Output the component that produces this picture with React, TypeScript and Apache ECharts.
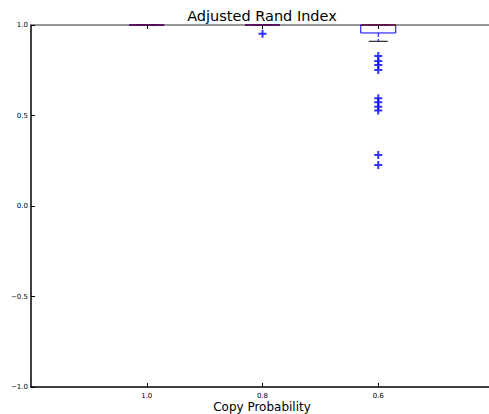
import React, { useEffect, useRef } from "react";
import * as echarts from "echarts";

const categories = ["", "1.0", "0.8", "0.6", ""];
// [categoryIndex, lowerWhisker, q1, median, q3, upperWhisker]
const boxes = [
  [1, 1.0, 1.0, 1.0, 1.0, 1.0],
  [2, 1.0, 1.0, 1.0, 1.0, 1.0],
  [3, 0.91, 0.956, 1.0, 1.0, 1.0],
];
const outliers = [
  [2, 0.952],
  [3, 0.829],
  [3, 0.801],
  [3, 0.779],
  [3, 0.751],
  [3, 0.595],
  [3, 0.573],
  [3, 0.549],
  [3, 0.527],
  [3, 0.282],
  [3, 0.227],
];
const yTicks = { min: -1, max: 1, interval: 0.5 };

const FONT = "DejaVu Sans";
const PLUS = "path://M3,0h2v3h3v2h-3v3h-2v-3h-3v-2h3z";

export default function App() {
  const ref = useRef<HTMLDivElement>(null);
  useEffect(() => {
    document.body.style.margin = "0";
    const chart = echarts.init(ref.current!, null, { renderer: "svg" });
    const boxW = 35;
    const capW = 19;
    const tickInterval = (i: number) => i > 0 && i < 4;
    chart.setOption({
      animation: false,
      backgroundColor: "#ffffff",
      grid: { left: 31, top: 25, width: 463, height: 362, outerBoundsMode: "none", containLabel: false },
      xAxis: [
        {
          type: "category",
          data: categories,
          boundaryGap: false,
          axisLine: { onZero: false, lineStyle: { color: "#000", width: 1.5 } },
          axisTick: {
            inside: true,
            length: 4,
            lineStyle: { color: "#000" },
            interval: tickInterval,
          },
          axisLabel: {
            interval: tickInterval,
            fontFamily: FONT,
            fontSize: 7,
            color: "#000",
            margin: 5,
          },
          splitLine: { show: false },
        },
        {
          type: "category",
          data: categories,
          position: "top",
          boundaryGap: false,
          axisLine: { onZero: false, lineStyle: { color: "#777", width: 1.5 } },
          axisTick: {
            inside: true,
            length: 4,
            lineStyle: { color: "#000" },
            interval: tickInterval,
          },
          axisLabel: { show: false },
          splitLine: { show: false },
        },
      ],
      yAxis: {
        type: "value",
        min: yTicks.min,
        max: yTicks.max,
        interval: yTicks.interval,
        axisLine: { show: true, onZero: false, lineStyle: { color: "#000", width: 1.5 } },
        axisTick: { show: true, inside: true, length: 4, lineStyle: { color: "#000" } },
        axisLabel: {
          fontFamily: FONT,
          fontSize: 7,
          color: "#000",
          margin: 3,
          formatter: (v: number) => v.toFixed(1).replace("-", "\u2212"),
        },
        splitLine: { show: false },
      },
      graphic: [
        {
          type: "text",
          x: 262,
          y: 16,
          style: {
            text: "Adjusted Rand Index",
            font: `14.5px '${FONT}'`,
            fill: "#000",
            textAlign: "center",
            textVerticalAlign: "middle",
          },
        },
        {
          type: "text",
          x: 262,
          y: 407,
          style: {
            text: "Copy Probability",
            font: `12px '${FONT}'`,
            fill: "#000",
            textAlign: "center",
            textVerticalAlign: "middle",
          },
        },
      ],
      series: [
        {
          type: "custom",
          clip: false,
          data: boxes,
          renderItem: (params: any, api: any) => {
            const x = api.value(0);
            const lo = api.coord([x, api.value(1)]);
            const q1 = api.coord([x, api.value(2)]);
            const med = api.coord([x, api.value(3)]);
            const q3 = api.coord([x, api.value(4)]);
            const hi = api.coord([x, api.value(5)]);
            const cx = q1[0];
            return {
              type: "group",
              children: [
                {
                  type: "line",
                  shape: { x1: cx, y1: q1[1], x2: cx, y2: lo[1] },
                  style: { stroke: "#0000ff", lineWidth: 1, lineDash: [4, 2] },
                },
                {
                  type: "line",
                  shape: { x1: cx, y1: q3[1], x2: cx, y2: hi[1] },
                  style: { stroke: "#0000ff", lineWidth: 1, lineDash: [4, 2] },
                },
                {
                  type: "line",
                  shape: { x1: cx - capW / 2, y1: lo[1], x2: cx + capW / 2, y2: lo[1] },
                  style: { stroke: "#000", lineWidth: 1 },
                },
                {
                  type: "line",
                  shape: { x1: cx - capW / 2, y1: hi[1], x2: cx + capW / 2, y2: hi[1] },
                  style: { stroke: "#000", lineWidth: 1 },
                },
                {
                  type: "rect",
                  shape: { x: cx - boxW / 2, y: q3[1], width: boxW, height: q1[1] - q3[1] },
                  style: { stroke: "#0000ff", fill: "none", lineWidth: 1 },
                },
                {
                  type: "line",
                  shape: { x1: cx - boxW / 2, y1: med[1], x2: cx + boxW / 2, y2: med[1] },
                  style: { stroke: "#6e1030", lineWidth: 1.5 },
                },
              ],
            };
          },
          z: 3,
        },
        {
          type: "scatter",
          data: outliers,
          symbol: PLUS,
          symbolSize: 8,
          itemStyle: { color: "#0000ff" },
          clip: false,
          z: 4,
        },
      ],
    });
    return () => chart.dispose();
  }, []);
  return (
    <div
      ref={ref}
      style={{ position: "fixed", left: 0, top: 0, width: 489, height: 414 }}
    />
  );
}
